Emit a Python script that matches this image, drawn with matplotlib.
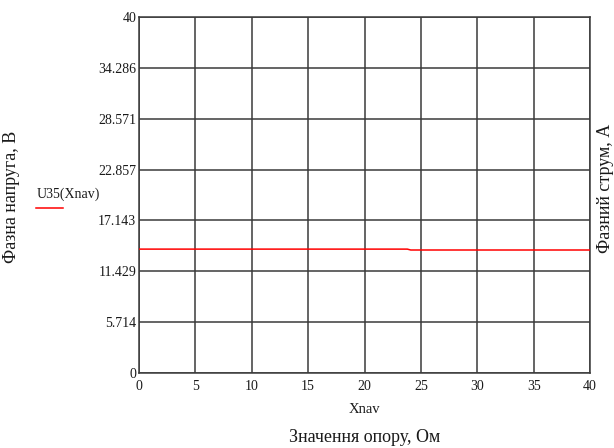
import matplotlib
matplotlib.use("Agg")
import matplotlib.pyplot as plt
from matplotlib.lines import Line2D

# Phase voltage U35 versus load resistance Xnav
xnav = [0, 23.8, 24.1, 40]
u35 = [13.92, 13.92, 13.82, 13.82]

x_ticks = [0, 5, 10, 15, 20, 25, 30, 35, 40]
y_ticks = [0, 5.714, 11.429, 17.143, 22.857, 28.571, 34.286, 40]
y_tick_labels = ["0", "5.714", "11.429", "17.143", "22.857", "28.571", "34.286", "40"]

plt.rcParams["font.family"] = ["Liberation Serif", "DejaVu Serif"]

fig = plt.figure(figsize=(6.14, 4.48), dpi=100)
ax = fig.add_axes([139 / 614, 1 - 373 / 448, 451 / 614, 356 / 448])

grid_color = "#3a3a3a"
text_color = "#1a1a1a"
ax.plot(xnav, u35, color="#ff0000", lw=1.1, zorder=3)

ax.set_xlim(0, 40)
ax.set_ylim(0, 40)
ax.set_xticks(x_ticks)
ax.set_yticks(y_ticks)
ax.set_yticklabels(y_tick_labels)
ax.tick_params(length=0, labelsize=10, colors=text_color, pad=2)
ax.tick_params(axis="x", pad=5)
ax.grid(True, color=grid_color, lw=1.1)
for s in ax.spines.values():
    s.set_color(grid_color)
    s.set_linewidth(1.1)

ax.set_xlabel("Xnav", fontsize=10.5, color=text_color, labelpad=7)

fig.text(12 / 614, 1 - 197 / 448, "Фазна напруга, В", rotation=90,
         ha="center", va="center", fontsize=13, color=text_color)
fig.text(605 / 614, 1 - 188 / 448, "Фазний струм, А", rotation=90,
         ha="center", va="center", fontsize=13, color=text_color)
fig.text(365 / 614, 1 - 437 / 448, "Значення опору, Ом",
         ha="center", va="center", fontsize=13, color=text_color)

# Trace legend at the left side
fig.text(37 / 614, 1 - 194 / 448, "U35(Xnav)", ha="left", va="center",
         fontsize=10, color=text_color)
fig.add_artist(Line2D([36 / 614, 63 / 614], [1 - 208 / 448, 1 - 208 / 448],
                      color="#ff0000", lw=1.1, transform=fig.transFigure))

fig.savefig("out.png", dpi=100)
